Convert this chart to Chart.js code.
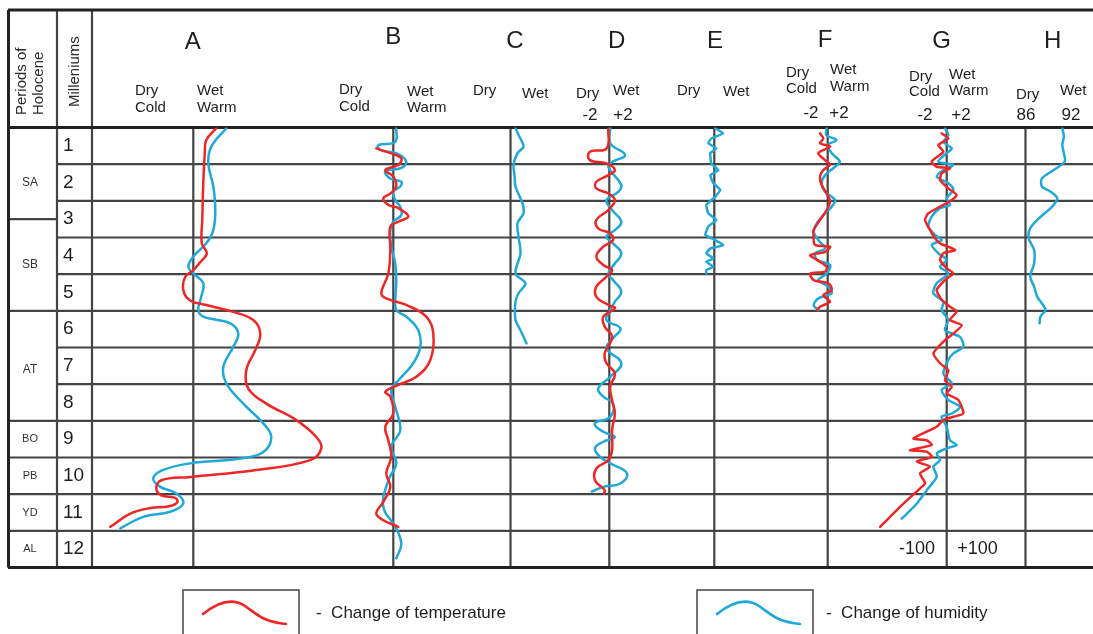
<!DOCTYPE html>
<html><head><meta charset="utf-8">
<script src="https://cdn.jsdelivr.net/npm/chart.js@4/dist/chart.umd.min.js"></script>
<style>html,body{margin:0;padding:0;background:#fff;overflow:hidden}canvas{display:block}</style>
</head><body>
<canvas id="c" width="1093" height="634"></canvas>
<script>
// ---------- categories / labels ----------
const millennia = ['1','2','3','4','5','6','7','8','9','10','11','12'];
const periodLabels = ['SA','SB','AT','BO','PB','YD','AL'];
const periodBounds = [0, 2.5, 5, 8, 9, 10, 11, 12];
const periodLabelKa = [1.5, 3.75, 6.6, 8.5, 9.5, 10.5, 11.5];
const columnLetters = ['A','B','C','D','E','F','G','H'];
const scaleTicksD = ['-2','+2'];
const scaleTicksF = ['-2','+2'];
const scaleTicksG = ['-2','+2'];
const scaleTicksH = ['86','92'];
const scaleTicksGBottom = ['-100','+100'];

// ---------- series: [ka BP, value] ----------
const A_temperature = [[0.02,2.3],[0.34,1.3],[0.7,1.15],[1.5,1.0],[2.5,0.9],[3.16,0.85],[3.43,1.35],[3.7,0.6],[3.89,0],[4.07,-0.8],[4.43,-1.0],[4.71,-0.35],[4.84,1.3],[5.03,4.0],[5.25,6.0],[5.62,6.7],[6.07,6.2],[6.62,5.3],[7.12,5.5],[7.53,7.3],[7.98,10.3],[8.44,12.3],[8.75,12.8],[9.07,11.7],[9.34,6.3],[9.53,-0.3],[9.62,-3.2],[9.84,-3.7],[10.03,-3.2],[10.1,-1.8],[10.22,-1.6],[10.33,-2.4],[10.38,-4.3],[10.53,-6.3],[10.89,-8.3]];
const A_humidity = [[0.02,3.3],[0.52,1.8],[0.98,1.5],[1.61,2.0],[2.25,2.2],[2.8,2.0],[3.16,1.3],[3.52,0],[3.8,-0.5],[3.98,0],[4.25,1.0],[4.71,0.7],[4.98,0.5],[5.16,1.0],[5.34,3.7],[5.62,4.5],[5.98,4.0],[6.53,3.0],[6.98,3.3],[7.53,5.0],[8.07,7.0],[8.44,7.8],[8.85,7.0],[9.03,4.7],[9.16,-0.3],[9.34,-3.0],[9.57,-4.0],[9.8,-3.3],[9.98,-1.7],[10.25,-1.0],[10.48,-2.3],[10.62,-5.0],[10.93,-7.3]];
const B_temperature = [[0.57,-1.7],[0.7,-0.3],[0.84,0.8],[1.02,0.5],[1.16,-0.8],[1.34,0],[1.61,0.3],[1.8,-0.3],[1.93,-1.0],[2.11,-0.5],[2.2,0.5],[2.43,1.5],[2.57,0.5],[2.71,-0.3],[3.34,-0.3],[3.98,-0.5],[4.52,-1.2],[4.66,-0.7],[4.84,1.3],[5.16,3.3],[5.62,4.0],[6.34,3.7],[6.8,2.3],[7.02,0.5],[7.21,-0.8],[7.34,-0.3],[7.8,0],[8.16,-0.8],[8.53,-0.5],[8.98,-0.2],[9.43,-0.7],[9.8,-0.3],[10.21,-1.0],[10.53,-1.7],[10.71,-1.0],[10.89,0.5]];
const B_humidity = [[0.02,0.3],[0.39,0.2],[0.48,-1.5],[0.62,-1.3],[0.7,0.3],[0.93,1.3],[1.1,0.8],[1.2,-0.8],[1.39,-0.3],[1.48,0.8],[1.61,0.7],[1.75,0],[1.98,0.2],[2.16,0.7],[2.39,0.8],[2.57,0],[2.8,-0.3],[3.25,-0.2],[3.71,0.2],[4.16,0.3],[4.71,0.2],[4.98,0.3],[5.16,1.3],[5.53,2.5],[5.98,2.7],[6.43,2.0],[6.84,0.7],[7.16,-0.2],[7.62,0.2],[8.25,0.7],[8.71,-0.2],[9.16,0.3],[9.62,-0.5],[10.35,-1.0],[10.89,0.2],[11.35,0.8],[11.75,0.3]];
const C_humidity = [[0.02,0.5],[0.2,0.8],[0.52,1.3],[0.7,0.7],[1.02,0.3],[1.3,0.4],[1.61,0.5],[2.07,1.2],[2.34,1.3],[2.61,0.7],[2.98,0.8],[3.43,1.0],[3.98,0.5],[4.25,1.5],[4.52,0.8],[4.75,0.5],[5.25,0.5],[5.53,1.0],[5.89,1.6]];
const D_temperature = [[0.02,-0.1],[0.57,-0.3],[0.66,-2.1],[0.89,-2.1],[0.98,-0.3],[1.16,0.6],[1.3,-0.1],[1.48,-1.4],[1.66,-1.4],[1.8,-0.1],[1.98,0.6],[2.25,-0.1],[2.52,-1.4],[2.75,-1.2],[2.89,0.1],[3.07,0.4],[3.25,-0.65],[3.52,-1.4],[3.75,-0.65],[3.89,0.3],[4.07,-0.3],[4.34,-1.4],[4.62,-1.4],[4.84,-0.1],[4.93,0.6],[5.16,-0.65],[5.43,-0.5],[5.71,0.3],[6.16,-0.5],[6.43,-0.3],[6.71,0.6],[7.07,0.1],[7.43,0.3],[7.8,0.6],[8.25,0.3],[8.8,0.3],[9.07,-0.1],[9.3,-1.4],[9.62,-1.55],[9.89,-0.5],[9.98,-0.6]];
const D_humidity = [[0.02,0.1],[0.43,0.1],[0.75,1.7],[0.93,0.4],[1.07,-0.1],[1.57,1.3],[1.75,1.0],[1.98,-0.3],[2.25,0.3],[2.57,1.3],[2.8,0.6],[2.98,-0.3],[3.16,0.4],[3.43,1.3],[3.71,0.6],[3.98,-0.1],[4.16,0.4],[4.48,1.3],[4.75,0.6],[4.98,0.1],[5.25,-0.3],[5.48,1.2],[5.75,0.4],[6.02,-0.3],[6.43,1.3],[6.8,0.1],[7.12,-1.2],[7.34,-0.65],[7.53,0.4],[7.89,0.1],[8.07,-1.55],[8.3,-0.65],[8.44,0.6],[8.57,-0.65],[8.75,-1.55],[8.98,-1.0],[9.16,0.1],[9.43,1.9],[9.71,1.2],[9.8,-0.65],[9.93,-1.9]];
const E_humidity = [[0.02,0.1],[0.16,0.9],[0.3,-0.3],[0.43,-0.6],[0.57,0.2],[0.7,-0.4],[0.98,-0.3],[1.16,0.4],[1.3,-0.4],[1.52,-0.1],[1.7,0.6],[1.89,0.1],[2.11,-0.8],[2.34,-0.6],[2.52,0.2],[2.7,-0.6],[2.93,-0.9],[3.07,0.1],[3.21,0.9],[3.3,-0.4],[3.43,-0.8],[3.57,-0.1],[3.66,-0.8],[3.8,-0.1],[3.89,-0.8],[3.98,-0.8]];
const F_temperature = [[0.16,-1.15],[0.3,-0.65],[0.43,-1.15],[0.52,0.35],[0.7,-1.4],[0.89,-0.4],[1.02,0.35],[1.16,-0.65],[1.34,-1.15],[1.57,-0.9],[1.8,-0.15],[2.02,0.35],[2.25,-0.15],[2.52,-1.15],[2.8,-2.1],[2.98,-2.1],[3.2,-1.9],[3.25,0.35],[3.39,-0.4],[3.48,-2.6],[3.61,-1.6],[3.8,-0.15],[3.93,-0.4],[3.98,-2.6],[4.16,-2.1],[4.25,0.1],[4.43,0.6],[4.57,-0.65],[4.75,0.35],[4.89,-1.15],[4.98,-1.6]];
const F_humidity = [[0,-0.15],[0.21,-0.2],[0.34,1.3],[0.48,0],[0.7,0.6],[0.93,1.8],[1.11,0.85],[1.3,-0.4],[1.52,-0.9],[1.75,-0.4],[1.98,1.1],[2.16,0.6],[2.34,-0.4],[2.61,-1.6],[2.84,-2.1],[3.07,-1.4],[3.3,-0.4],[3.43,-1.9],[3.61,-1.6],[3.75,0.35],[3.98,-0.15],[4.16,-1.4],[4.34,0.1],[4.52,0.6],[4.66,-1.4],[4.84,-2.1],[4.98,-1.4]];
const G_temperature = [[0.16,-0.53],[0.3,0.17],[0.48,-0.88],[0.66,-0.35],[0.93,-1.58],[1.07,-1.05],[1.11,0.35],[1.25,-0.53],[1.43,-0.7],[1.66,0.17],[1.84,1.05],[1.98,0.53],[2.16,-0.7],[2.34,-1.93],[2.52,-2.28],[2.8,-1.75],[3.02,-1.23],[3.16,-0.7],[3.34,0.88],[3.43,-0.35],[3.61,-0.7],[3.84,0],[3.98,0.7],[4.16,-0.18],[4.43,-1.05],[4.7,-0.53],[4.89,0.35],[5.02,1.05],[5.25,0.35],[5.39,1.58],[5.62,0.7],[5.8,-0.18],[6.16,-1.4],[6.43,-0.7],[6.62,0.17],[6.89,-0.18],[7.07,0.53],[7.25,0],[7.43,1.23],[7.8,1.75],[7.89,0.7],[7.98,-0.35],[8.16,-1.05],[8.48,-3.5],[8.53,-2.1],[8.66,-1.58],[8.8,-3.86],[8.84,-2.1],[8.98,-1.58],[9.11,-3.16],[9.25,-1.75],[9.43,-2.8],[9.7,-2.28],[9.84,-2.8],[10.26,-4.56],[10.89,-7.0]];
const G_humidity = [[0.02,-0.18],[0.2,0.17],[0.39,-0.35],[0.57,0.53],[0.7,0],[0.93,-0.88],[1.02,0.7],[1.16,-0.35],[1.34,-1.05],[1.52,0.17],[1.7,0.7],[1.93,0],[2.11,0.35],[2.2,-0.7],[2.43,-1.58],[2.7,-1.93],[2.93,-1.23],[3.07,-0.53],[3.2,-1.58],[3.43,-0.88],[3.61,0],[3.8,-0.7],[3.98,0.17],[4.25,-1.05],[4.52,-1.4],[4.75,-0.35],[4.98,-0.53],[5.25,0.17],[5.53,-0.18],[5.71,1.4],[5.98,1.75],[6.16,0.7],[6.34,0.17],[6.71,-0.35],[6.98,0.53],[7.16,-0.53],[7.43,0.17],[7.62,1.4],[7.8,0.53],[7.89,-0.53],[8.16,0],[8.53,0.35],[8.66,1.05],[8.75,0],[8.89,-1.05],[9.07,-0.7],[9.25,-1.4],[9.52,-1.05],[9.89,-2.1],[10.26,-3.16],[10.67,-4.74]];
const H_humidity = [[0.02,90.7],[0.25,90.9],[0.48,90.7],[0.7,90.9],[0.93,91.0],[1.16,89.6],[1.39,88.1],[1.61,88.1],[1.75,89.2],[1.93,90.05],[2.16,89.4],[2.48,87.7],[2.75,86.6],[3.02,86.4],[3.34,87.1],[3.71,87.1],[4.07,86.6],[4.34,87.1],[4.62,87.5],[4.8,88.1],[4.98,88.55],[5.16,87.9],[5.34,87.8]];

// ---------- layout (positions / styles) ----------
const PAD = {left:92, right:0, top:127.5, bottom:66.5};
const W = 1093;
const AREA_L = PAD.left, AREA_R = W - PAD.right;
const colLayout = {
  A:{ref:193.3, refVal:0, ppu:10},
  B:{ref:393.3, refVal:0, ppu:10},
  C:{ref:510.5, refVal:0, ppu:10},
  D:{ref:609.3, refVal:0, ppu:9.25},
  E:{ref:714.3, refVal:0, ppu:10},
  F:{ref:827.7, refVal:0, ppu:6.7},
  G:{ref:946.7, refVal:0, ppu:9.5},
  H:{ref:1025.5, refVal:86, ppu:7.83}
};
const RED = '#ef2626', BLUE = '#1fa8d8';
const FONT = '"Liberation Sans", Arial, Helvetica, sans-serif';

const scales = {
  y:{type:'linear', reverse:true, min:0, max:12, display:false},
  x:{type:'linear', display:false, min:0, max:1}
};
columnLetters.forEach(k => {
  const c = colLayout[k];
  scales['x'+k] = {type:'linear', display:false,
    min: c.refVal - (c.ref - AREA_L)/c.ppu,
    max: c.refVal + (AREA_R - c.ref)/c.ppu};
});

function ds(label, pairs, col, color, tension){
  return {label, data: pairs.map(p => ({x:p[1], y:p[0]})), xAxisID:'x'+col, yAxisID:'y',
    showLine:true, borderColor:color, backgroundColor:color, borderWidth:2.5,
    pointRadius:0, pointHoverRadius:0, tension, fill:false,
    borderCapStyle:'round', borderJoinStyle:'round'};
}
const datasets = [
  ds('A temperature', A_temperature, 'A', RED, 0.4),
  ds('A humidity', A_humidity, 'A', BLUE, 0.4),
  ds('B temperature', B_temperature, 'B', RED, 0.4),
  ds('B humidity', B_humidity, 'B', BLUE, 0.4),
  ds('C humidity', C_humidity, 'C', BLUE, 0.3),
  ds('D temperature', D_temperature, 'D', RED, 0.45),
  ds('D humidity', D_humidity, 'D', BLUE, 0.45),
  ds('E humidity', E_humidity, 'E', BLUE, 0.1),
  ds('F temperature', F_temperature, 'F', RED, 0.3),
  ds('F humidity', F_humidity, 'F', BLUE, 0.3),
  ds('G temperature', G_temperature, 'G', RED, 0.2),
  ds('G humidity', G_humidity, 'G', BLUE, 0.25),
  ds('H humidity', H_humidity, 'H', BLUE, 0.3)
];

// header text layout
const letterPos = {A:[192.7,42],B:[393.3,37.5],C:[515,41],D:[616.7,41],E:[715,41],F:[825,40],G:[941.7,41],H:[1052.7,41]};
const subLabels = [
  ['Dry',135,91],['Cold',135,108],['Wet',197,91],['Warm',197,108],
  ['Dry',339,90],['Cold',339,106.5],['Wet',407,91.5],['Warm',407,108],
  ['Dry',473,90.5],['Wet',522,93.5],
  ['Dry',576,94],['Wet',613,90.5],
  ['Dry',677,90.5],['Wet',723,91.5],
  ['Dry',786,73],['Cold',786,89],['Wet',830,70],['Warm',830,87],
  ['Dry',909,77],['Cold',909,91.5],['Wet',949,75],['Warm',949,90.5],
  ['Dry',1016,95],['Wet',1060,90.5]
];
const tickLabelPos = [
  [scaleTicksD[0],590,115],[scaleTicksD[1],623,115],
  [scaleTicksF[0],811,113.5],[scaleTicksF[1],839,113.5],
  [scaleTicksG[0],925,115],[scaleTicksG[1],961,115],
  [scaleTicksH[0],1026,115],[scaleTicksH[1],1071,115]
];

const tablePlugin = {
  id:'table',
  beforeDraw(chart){
    const ctx = chart.ctx;
    ctx.save(); ctx.fillStyle='#fff'; ctx.fillRect(0,0,chart.width,chart.height); ctx.restore();
  },
  beforeDatasetsDraw(chart){
    const ctx = chart.ctx, y = chart.scales.y, a = chart.chartArea;
    const line = (x1,y1,x2,y2) => {ctx.beginPath(); ctx.moveTo(x1,y1); ctx.lineTo(x2,y2); ctx.stroke();};
    ctx.save();
    ctx.strokeStyle = '#444'; ctx.lineWidth = 2.2;
    for (let k = 1; k < millennia.length; k++) { const py = y.getPixelForValue(k); line(57, py, a.right, py); }
    periodBounds.slice(1,-1).forEach(b => { const py = y.getPixelForValue(b); line(8, py, 57, py); });
    columnLetters.forEach(k => { const px = chart.scales['x'+k].getPixelForValue(colLayout[k].refVal); line(px, a.top, px, a.bottom); });
    line(57, 10, 57, a.bottom); line(92, 10, 92, a.bottom);
    ctx.strokeStyle = '#222'; ctx.lineWidth = 3;
    line(8, 10, a.right, 10); line(8, a.top, a.right, a.top); line(8, a.bottom, a.right, a.bottom); line(8.5, 10, 8.5, a.bottom);
    ctx.restore();
  },
  afterDraw(chart){
    const ctx = chart.ctx, y = chart.scales.y;
    ctx.save();
    ctx.fillStyle = '#1e1e1e';
    ctx.textBaseline = 'middle';
    ctx.textAlign = 'center'; ctx.font = '24px ' + FONT;
    columnLetters.forEach(k => ctx.fillText(k, letterPos[k][0], letterPos[k][1]));
    ctx.textAlign = 'left'; ctx.font = '15px ' + FONT;
    subLabels.forEach(s => ctx.fillText(s[0], s[1], s[2]));
    ctx.textAlign = 'center'; ctx.font = '17px ' + FONT;
    tickLabelPos.forEach(s => ctx.fillText(s[0], s[1], s[2]));
    ctx.font = '18px ' + FONT;
    ctx.fillText(scaleTicksGBottom[0], 917, y.getPixelForValue(11.5));
    ctx.fillText(scaleTicksGBottom[1], 977.5, y.getPixelForValue(11.5));
    ctx.textAlign = 'left'; ctx.font = '19px ' + FONT;
    millennia.forEach((m,i) => ctx.fillText(m, 63, y.getPixelForValue(i + 0.5)));
    ctx.textAlign = 'center';
    periodLabels.forEach((p,i) => {
      ctx.font = (i < 3 ? '12px ' : '11px ') + FONT;
      ctx.fillStyle = '#333';
      ctx.fillText(p, 30, y.getPixelForValue(periodLabelKa[i]));
    });
    ctx.fillStyle = '#2a2a2a';
    ctx.font = '15px ' + FONT; ctx.textAlign = 'left';
    const rot = (txt, x, yy) => { ctx.save(); ctx.translate(x, yy); ctx.rotate(-Math.PI/2); ctx.fillText(txt, 0, 0); ctx.restore(); };
    rot('Periods of', 22, 115); rot('Holocene', 39, 115); rot('Milleniums', 75, 107);
    // legend
    ctx.strokeStyle = '#444'; ctx.lineWidth = 1.5;
    ctx.strokeRect(183, 590, 116, 60); ctx.strokeRect(697, 590, 116, 60);
    const sample = (ox, color) => {
      ctx.strokeStyle = color; ctx.lineWidth = 2.6; ctx.lineCap = 'round';
      ctx.beginPath(); ctx.moveTo(ox + 20, 614);
      ctx.bezierCurveTo(ox + 35, 602, ox + 50, 598, ox + 62, 606);
      ctx.bezierCurveTo(ox + 74, 614, ox + 80, 622, ox + 103, 624);
      ctx.stroke();
    };
    sample(183, RED); sample(697, BLUE);
    ctx.fillStyle = '#1e1e1e'; ctx.font = '17px ' + FONT; ctx.textAlign = 'left';
    ctx.fillText('-  Change of temperature', 316, 613);
    ctx.fillText('-  Change of humidity', 826, 613);
    ctx.restore();
  }
};

new Chart(document.getElementById('c'), {
  type:'scatter',
  data:{datasets},
  options:{
    responsive:false, animation:false, devicePixelRatio:1,
    layout:{padding:PAD},
    scales,
    plugins:{legend:{display:false}, tooltip:{enabled:false}, title:{display:false}},
    events:[]
  },
  plugins:[tablePlugin]
});
</script>
</body></html>
